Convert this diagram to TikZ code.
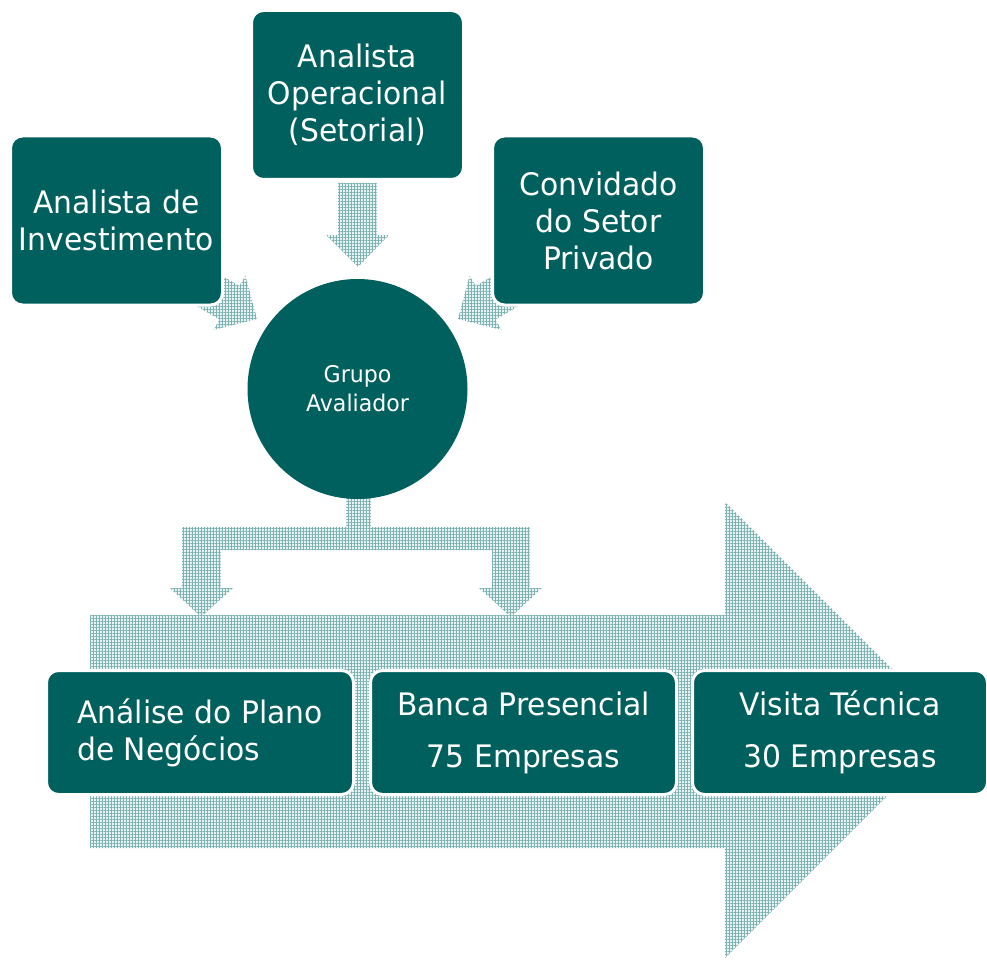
\documentclass[tikz,border=0pt]{standalone}
\usepackage{fontspec}
\setmainfont{DejaVu Sans}[FakeStretch=0.96]
\usetikzlibrary{patterns.meta}
\definecolor{tealdark}{RGB}{0,96,94}
\definecolor{patline}{RGB}{125,178,178}
\definecolor{patbg}{RGB}{234,243,243}
\begin{document}
\begin{tikzpicture}[x=1pt,y=-1pt,
  hatch/.style={fill=patbg, postaction={pattern={Hatch[angle=0,distance=3pt,line width=0.5pt]}, pattern color=patline}},
  box/.style={fill=tealdark, draw=white, line width=3pt, rounded corners=12pt, text=white, inner sep=0pt,
    font=\fontsize{31}{37}\selectfont, align=center},
  topbox/.style={box, minimum width=212pt, minimum height=169pt},
  lowbox/.style={box, minimum height=124pt},
  disc/.style={circle, fill=tealdark, text=white, inner sep=0pt, minimum size=220pt,
    font=\fontsize{23}{29}\selectfont, align=center}]
\useasboundingbox (0,0) rectangle (987,960);
% big process arrow
\path[hatch] (90,615) -- (725,615) -- (725,502) -- (953,730) -- (725,958) -- (725,848) -- (90,848) -- cycle;
% split arrow below the circle
\path[hatch] (346,495) -- (371,495) -- (371,527) -- (530,527) -- (530,588) -- (542,588) -- (511,617)
  -- (479,588) -- (492,588) -- (492,550) -- (221,550) -- (221,588) -- (233,588) -- (201,617)
  -- (170,588) -- (182,588) -- (182,527) -- (346,527) -- cycle;
% arrow from the top box
\path[hatch] (338,183) -- (377,183) -- (377,235) -- (389,235) -- (358,267) -- (326,235) -- (338,235) -- cycle;
% diagonal arrows
\begin{scope}[shift={(257,319)}, rotate=-30.5]
  \path[hatch] (0,0) -- (-32,31.5) -- (-32,19.5) -- (-100,19.5) -- (-100,-19.5) -- (-32,-19.5) -- (-32,-31.5) -- cycle;
\end{scope}
\begin{scope}[shift={(458,319)}, rotate=210.5]
  \path[hatch] (0,0) -- (-32,31.5) -- (-32,19.5) -- (-100,19.5) -- (-100,-19.5) -- (-32,-19.5) -- (-32,-31.5) -- cycle;
\end{scope}
% boxes
\node[topbox] (inv) at (116.5,220.5) {Analista de\\Investimento};
\node[topbox] (oper) at (357.5,95) {Analista\\Operacional\\(Setorial)};
\node[topbox] (conv) at (598.5,220.5) {Convidado\\do Setor\\Privado};
\node[disc] (grupo) at (357.5,389) {Grupo\\Avaliador};
\node[lowbox, minimum width=307pt, align=left] (ana) at (200,732.5) {Análise do Plano\\de Negócios};
\node[lowbox, minimum width=306pt] (banca) at (523.5,732.5) {Banca Presencial\\[15pt]75 Empresas};
\node[lowbox, minimum width=295pt] (visita) at (840,732.5) {Visita Técnica\\[15pt]30 Empresas};
\end{tikzpicture}
\end{document}
